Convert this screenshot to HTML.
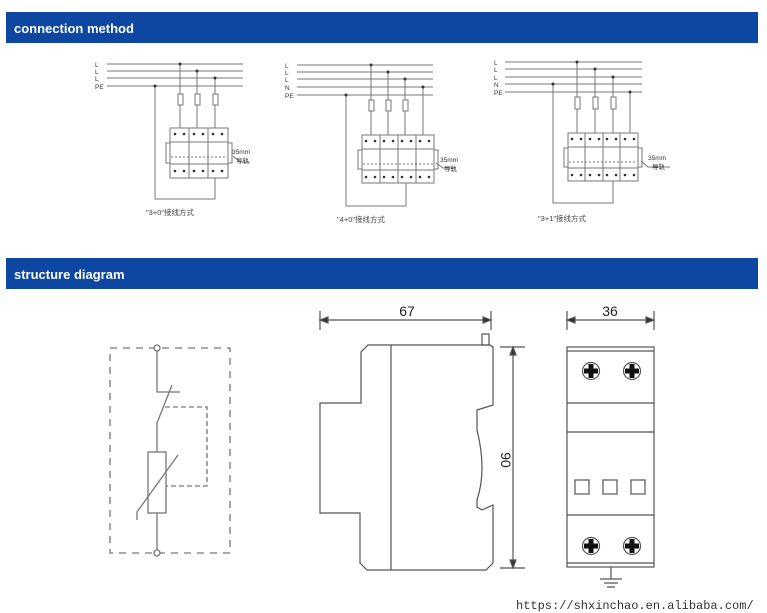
<!DOCTYPE html>
<html><head><meta charset="utf-8"><style>
html,body{margin:0;padding:0;background:#fff;width:767px;height:613px;overflow:hidden}
svg{display:block}
</style></head><body>
<svg width="767" height="613" viewBox="0 0 767 613" xmlns="http://www.w3.org/2000/svg" font-family="Liberation Sans, sans-serif">
<rect x="6" y="12" width="752" height="31" fill="#0d47a1"/>
<text x="14" y="33" fill="#fff" font-size="13" font-weight="bold">connection method</text>
<rect x="6" y="258" width="752" height="31" fill="#0d47a1"/>
<text x="14" y="279" fill="#fff" font-size="13" font-weight="bold">structure diagram</text>

<g stroke="#777" stroke-width="1" fill="none">
<!-- D1 -->
<path d="M107 64H243M107 71H243M107 78H243M107 86H243"/>
<path d="M180 64V128M197 71V128M215 78V128M155 86V199H215V178"/>
<rect x="178" y="94" width="5" height="11" fill="#fff"/><rect x="195" y="94" width="5" height="11" fill="#fff"/><rect x="213" y="94" width="5" height="11" fill="#fff"/>
<rect x="170" y="128" width="58" height="50" fill="#fff"/>
<path d="M189 128V178M208 128V178M170 142H228M170 164H228"/>
<rect x="166" y="143" width="4" height="20"/><rect x="228" y="143" width="4" height="20"/>
<path d="M171 157H227" stroke-dasharray="2,2"/>
<path d="M233 156L240 162H250"/>
<!-- D2 -->
<path d="M297 65H433M297 72H433M297 79H433M297 87H433M297 95H433"/>
<path d="M371 65V135M388 72V135M405 79V135M423 87V135M346 95V206H406V183"/>
<rect x="369" y="100" width="5" height="11" fill="#fff"/><rect x="386" y="100" width="5" height="11" fill="#fff"/><rect x="403" y="100" width="5" height="11" fill="#fff"/>
<rect x="362" y="135" width="72" height="48" fill="#fff"/>
<path d="M380 135V183M398 135V183M416 135V183M362 149H434M362 170H434"/>
<rect x="358" y="150" width="4" height="19"/><rect x="434" y="150" width="4" height="19"/>
<path d="M363 164H433" stroke-dasharray="2,2"/>
<path d="M436 163L443 168H455"/>
<!-- D3 -->
<path d="M505 62H642M505 69H642M505 77H642M505 84H642M505 92H642"/>
<path d="M577 62V133M595 69V133M613 77V133M630 92V133M553 84V203H613V181"/>
<rect x="575" y="97" width="5" height="12" fill="#fff"/><rect x="593" y="97" width="5" height="12" fill="#fff"/><rect x="611" y="97" width="5" height="12" fill="#fff"/>
<rect x="568" y="133" width="70" height="48" fill="#fff"/>
<path d="M585 133V181M603 133V181M620 133V181M568 147H638M568 168H638"/>
<rect x="564" y="148" width="4" height="19"/><rect x="638" y="148" width="4" height="19"/>
<path d="M569 162H637" stroke-dasharray="2,2"/>
<path d="M641 161L648 167H670"/>
</g>
<g fill="#333">
<circle cx="180" cy="64" r="1.5"/><circle cx="197" cy="71" r="1.5"/><circle cx="215" cy="78" r="1.5"/><circle cx="155" cy="86" r="1.5"/>
<circle cx="371" cy="65" r="1.5"/><circle cx="388" cy="72" r="1.5"/><circle cx="405" cy="79" r="1.5"/><circle cx="423" cy="87" r="1.5"/><circle cx="346" cy="95" r="1.5"/>
<circle cx="577" cy="62" r="1.5"/><circle cx="595" cy="69" r="1.5"/><circle cx="613" cy="77" r="1.5"/><circle cx="553" cy="84" r="1.5"/><circle cx="630" cy="92" r="1.5"/>
</g>
<g fill="#333" font-size="6.5">
<text x="95" y="67">L</text><text x="95" y="74">L</text><text x="95" y="81">L</text><text x="95" y="89">PE</text>
<text x="285" y="68">L</text><text x="285" y="75">L</text><text x="285" y="82">L</text><text x="285" y="90">N</text><text x="285" y="98">PE</text>
<text x="494" y="65">L</text><text x="494" y="72">L</text><text x="494" y="80">L</text><text x="494" y="87">N</text><text x="494" y="95">PE</text>
<text x="232" y="154">35mm</text><text x="236" y="163">导轨</text>
<text x="440" y="162">35mm</text><text x="444" y="171">导轨</text>
<text x="648" y="160">35mm</text><text x="652" y="169">导轨</text>
</g>
<g fill="#444" font-size="7.5" font-family="Liberation Sans, Noto Sans CJK SC, sans-serif">
<text x="146" y="215">"3+0"接线方式</text>
<text x="337" y="222">"4+0"接线方式</text>
<text x="538" y="221">"3+1"接线方式</text>
</g>
<!-- (dot grid in modules) -->
<g fill="#333">
<circle cx="175" cy="134" r="1.3"/><circle cx="184" cy="134" r="1.3"/><circle cx="194" cy="134" r="1.3"/><circle cx="203" cy="134" r="1.3"/><circle cx="213" cy="134" r="1.3"/><circle cx="222" cy="134" r="1.3"/>
<circle cx="175" cy="171" r="1.3"/><circle cx="184" cy="171" r="1.3"/><circle cx="194" cy="171" r="1.3"/><circle cx="203" cy="171" r="1.3"/><circle cx="213" cy="171" r="1.3"/><circle cx="222" cy="171" r="1.3"/>
<circle cx="366" cy="141" r="1.3"/><circle cx="375" cy="141" r="1.3"/><circle cx="384" cy="141" r="1.3"/><circle cx="393" cy="141" r="1.3"/><circle cx="402" cy="141" r="1.3"/><circle cx="411" cy="141" r="1.3"/><circle cx="420" cy="141" r="1.3"/><circle cx="429" cy="141" r="1.3"/>
<circle cx="366" cy="177" r="1.3"/><circle cx="375" cy="177" r="1.3"/><circle cx="384" cy="177" r="1.3"/><circle cx="393" cy="177" r="1.3"/><circle cx="402" cy="177" r="1.3"/><circle cx="411" cy="177" r="1.3"/><circle cx="420" cy="177" r="1.3"/><circle cx="429" cy="177" r="1.3"/>
<circle cx="572" cy="139" r="1.3"/><circle cx="581" cy="139" r="1.3"/><circle cx="590" cy="139" r="1.3"/><circle cx="599" cy="139" r="1.3"/><circle cx="607" cy="139" r="1.3"/><circle cx="616" cy="139" r="1.3"/><circle cx="625" cy="139" r="1.3"/><circle cx="634" cy="139" r="1.3"/>
<circle cx="572" cy="175" r="1.3"/><circle cx="581" cy="175" r="1.3"/><circle cx="590" cy="175" r="1.3"/><circle cx="599" cy="175" r="1.3"/><circle cx="607" cy="175" r="1.3"/><circle cx="616" cy="175" r="1.3"/><circle cx="625" cy="175" r="1.3"/><circle cx="634" cy="175" r="1.3"/>
</g>

<!-- schematic -->
<g stroke="#777" stroke-width="1.3" fill="none">
<rect x="110" y="348" width="120" height="205" stroke-dasharray="7,6"/>
<path d="M157 351V392H180M172 385L157 423V452M157 513V550"/>
<rect x="148" y="452" width="18" height="61" fill="#fff"/>
<path d="M137 520V512L178 455"/>
<path d="M165 407H207V486H166" stroke-dasharray="5,3"/>
<circle cx="157" cy="348" r="3" fill="#fff"/><circle cx="157" cy="553" r="3" fill="#fff"/>
</g>

<!-- side view -->
<g stroke="#555" stroke-width="1.2" fill="none">
<path d="M320 311V330M491 311V330M320 320H491"/>
<path d="M320 320l8-3v6zM491 320l-8-3v6z" fill="#333"/>
<path d="M368 345H490L493 347V405L477 410V430Q487 470 477 500V507L482 510L493 505V563L486 570H367L360 563V513H320V403H361V352Z"/>
<path d="M391 345V570"/>
<rect x="482" y="334" width="7" height="11"/>
<path d="M500 347H525M500 568H525M513 347V568"/>
<path d="M513 347l-3 8h6zM513 568l-3-8h6z" fill="#333"/>
</g>
<text x="407" y="316" font-size="14" text-anchor="middle" fill="#222">67</text>
<text transform="translate(501,460) rotate(90)" font-size="14" text-anchor="middle" fill="#222">90</text>

<!-- front view -->
<g stroke="#555" stroke-width="1.2" fill="none">
<path d="M567 311V330M654 311V330M567 320H654"/>
<path d="M567 320l8-3v6zM654 320l-8-3v6z" fill="#333"/>
<rect x="567" y="347" width="87" height="220"/>
<path d="M567 351H654M567 403H654M567 432H654M567 515H654M567 563H654"/>
<rect x="575" y="480" width="14" height="14"/><rect x="603" y="480" width="14" height="14"/><rect x="631" y="480" width="14" height="14"/>
<path d="M611 567V579M600 579H622M604 583H618M607 587H615"/>
<circle cx="591" cy="371" r="8.5"/><circle cx="632" cy="371" r="8.5"/><circle cx="591" cy="546" r="8.5"/><circle cx="632" cy="546" r="8.5"/>
</g>
<g fill="#111">
<path d="M588.5 364h5v4.5h4.5v5h-4.5v4.5h-5v-4.5h-4.5v-5h4.5z"/>
<path d="M629.5 364h5v4.5h4.5v5h-4.5v4.5h-5v-4.5h-4.5v-5h4.5z"/>
<path d="M588.5 539h5v4.5h4.5v5h-4.5v4.5h-5v-4.5h-4.5v-5h4.5z"/>
<path d="M629.5 539h5v4.5h4.5v5h-4.5v4.5h-5v-4.5h-4.5v-5h4.5z"/>
</g>
<text x="610" y="316" font-size="14" text-anchor="middle" fill="#222">36</text>
<text x="516" y="609" font-size="12" font-family="Liberation Mono, monospace" fill="#333">https://shxinchao.en.alibaba.com/</text>
</svg>
</body></html>
